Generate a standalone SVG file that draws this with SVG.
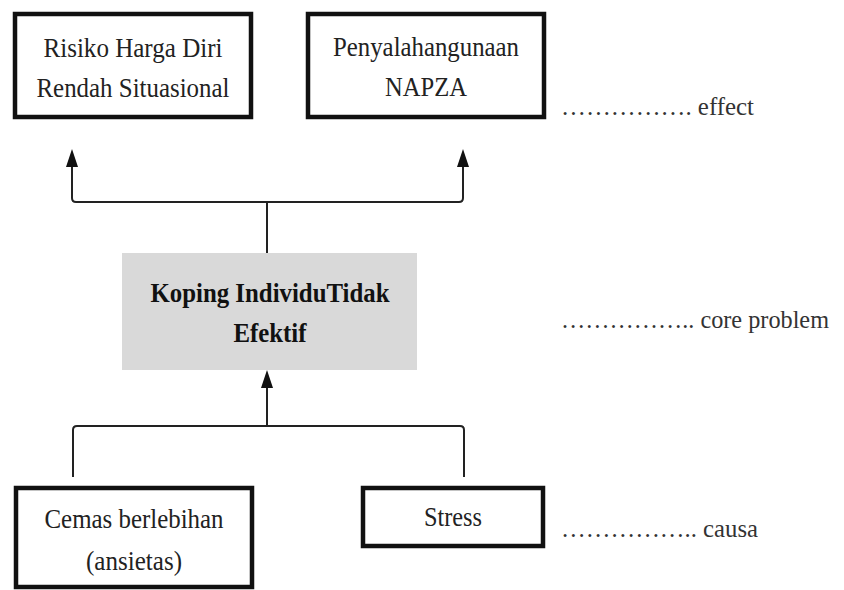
<svg xmlns="http://www.w3.org/2000/svg" width="844" height="590" viewBox="0 0 844 590">
  <defs>
    <style>
      .box { fill: #fff; stroke: #111; stroke-width: 4.5; }
      .core { fill: #d9d9d9; stroke: none; }
      .t { font-family: "Liberation Serif", "Times New Roman", serif; font-size: 26.5px; fill: #222; text-anchor: middle; }
      .b { font-weight: bold; fill: #111; }
      .lbl { font-family: "Liberation Serif", "Times New Roman", serif; font-size: 25px; fill: #333; text-anchor: start; }
      .ln { fill: none; stroke: #222; stroke-width: 2; }
      .ah { fill: #111; }
    </style>
  </defs>
  <rect width="844" height="590" fill="#fff"/>

  <g id="connectors">
    <path class="ln" d="M267,253 L267,202"/>
    <path class="ln" d="M72,165 L72,198 Q72,202 76,202 L459,202 Q463,202 463,198 L463,165"/>
    <path class="ah" d="M72,149 L78,167 L66,167 Z"/>
    <path class="ah" d="M463,149 L469,167 L457,167 Z"/>
    <path class="ln" d="M267,426 L267,386"/>
    <path class="ah" d="M267,370 L273,388 L261,388 Z"/>
    <path class="ln" d="M73,477 L73,430 Q73,426 77,426 L460,426 Q464,426 464,430 L464,477"/>
  </g>

  <g id="node-risiko">
    <rect class="box" x="15" y="14" width="236" height="103"/>
    <text class="t" x="133" y="57" textLength="179" lengthAdjust="spacingAndGlyphs">Risiko Harga Diri</text>
    <text class="t" x="133" y="97" textLength="193" lengthAdjust="spacingAndGlyphs">Rendah Situasional</text>
  </g>

  <g id="node-napza">
    <rect class="box" x="308" y="14" width="236" height="103"/>
    <text class="t" x="426" y="56" textLength="186" lengthAdjust="spacingAndGlyphs">Penyalahangunaan</text>
    <text class="t" x="426" y="96" textLength="82" lengthAdjust="spacingAndGlyphs">NAPZA</text>
  </g>

  <g id="node-koping">
    <rect class="core" x="122" y="253" width="295" height="117"/>
    <text class="t b" x="270" y="302" textLength="239" lengthAdjust="spacingAndGlyphs">Koping IndividuTidak</text>
    <text class="t b" x="270" y="342" textLength="73" lengthAdjust="spacingAndGlyphs">Efektif</text>
  </g>

  <g id="node-cemas">
    <rect class="box" x="16" y="488" width="236" height="99"/>
    <text class="t" x="134" y="528" textLength="179" lengthAdjust="spacingAndGlyphs">Cemas berlebihan</text>
    <text class="t" x="134" y="570" textLength="96" lengthAdjust="spacingAndGlyphs">(ansietas)</text>
  </g>

  <g id="node-stress">
    <rect class="box" x="363" y="488" width="180" height="58"/>
    <text class="t" x="453" y="526" textLength="58" lengthAdjust="spacingAndGlyphs">Stress</text>
  </g>

  <g id="labels">
    <text class="lbl" x="561" y="115" textLength="193" lengthAdjust="spacingAndGlyphs">&#8230;&#8230;&#8230;&#8230;&#8230;. effect</text>
    <text class="lbl" x="561" y="328" textLength="268" lengthAdjust="spacingAndGlyphs">&#8230;&#8230;&#8230;&#8230;&#8230;.. core problem</text>
    <text class="lbl" x="561" y="537" textLength="197" lengthAdjust="spacingAndGlyphs">&#8230;&#8230;&#8230;&#8230;&#8230;.. causa</text>
  </g>
</svg>
